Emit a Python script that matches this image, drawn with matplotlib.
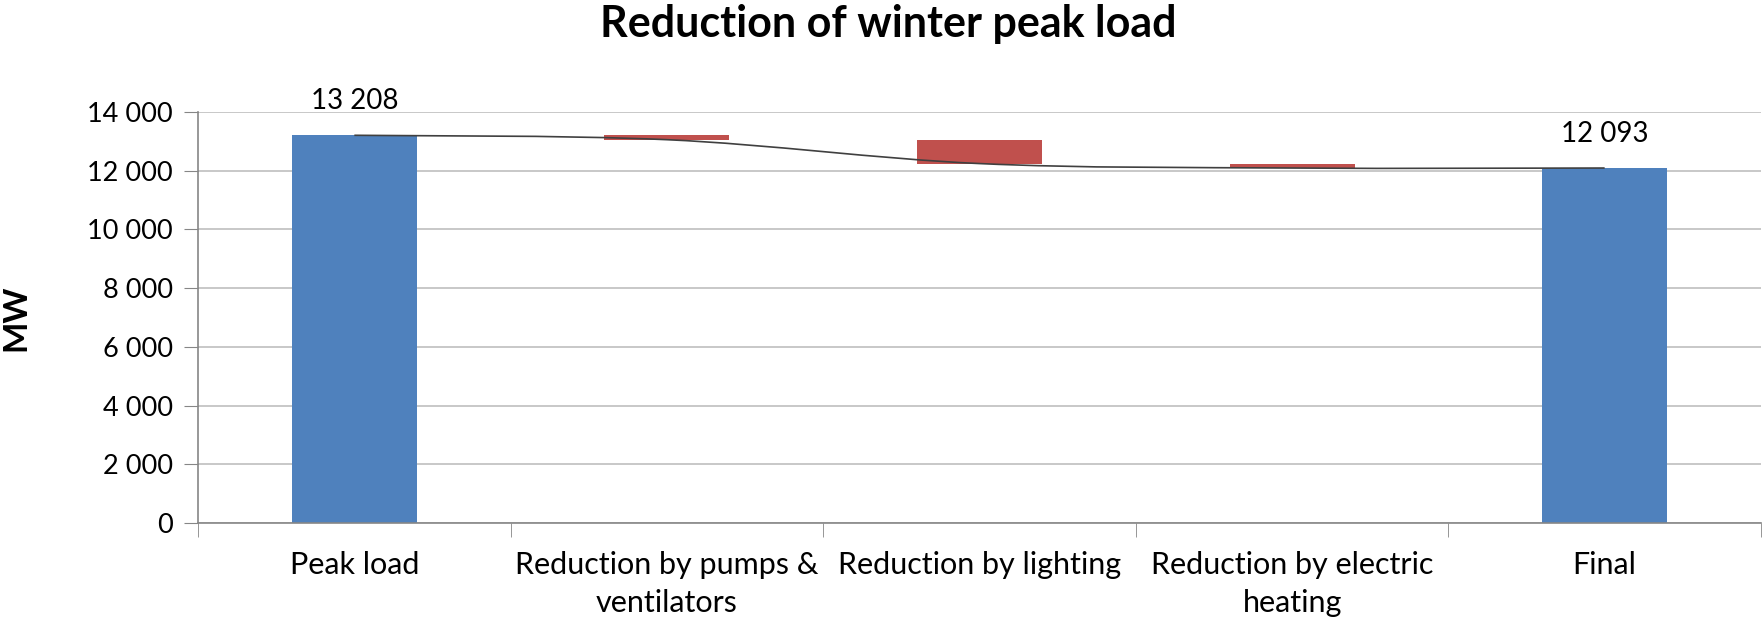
import numpy as np
import matplotlib
matplotlib.use("Agg")
import matplotlib.pyplot as plt
from matplotlib.path import Path
from matplotlib.patches import PathPatch

categories = ["Peak load", "Reduction by pumps &\nventilators", "Reduction by lighting",
              "Reduction by electric\nheating", "Final"]
peak_load = 13208
reductions = [150, 813, 152]
final_load = 12093
yticks = [0, 2000, 4000, 6000, 8000, 10000, 12000, 14000]

blue = "#4F81BD"
red = "#C0504D"

plt.rcParams['font.family'] = ['Lato', 'DejaVu Sans']


def fmt(v):
    return f"{int(v):,}".replace(",", " ")


def main():
    fig = plt.figure(figsize=(17.62, 6.19), dpi=100)
    ax = fig.add_axes([0.1124, 0.155, 0.887, 0.664])

    x = np.arange(len(categories))
    w = 0.4

    # totals
    ax.bar([0, 4], [peak_load, final_load], width=w, color=blue, zorder=2)

    # floating reductions
    level = peak_load
    line_y = [peak_load]
    for i, r in enumerate(reductions):
        ax.bar(i + 1, r, bottom=level - r, width=w, color=red, zorder=2)
        level -= r
        line_y.append(level)
    line_y.append(final_load)

    # smoothed connector line (Catmull-Rom as bezier)
    pts = np.column_stack([x, line_y]).astype(float)
    verts = [pts[0]]
    codes = [Path.MOVETO]
    n = len(pts)
    for i in range(n - 1):
        p0 = pts[max(i - 1, 0)]
        p1 = pts[i]
        p2 = pts[i + 1]
        p3 = pts[min(i + 2, n - 1)]
        verts += [p1 + (p2 - p0) / 6, p2 - (p3 - p1) / 6, p2]
        codes += [Path.CURVE4] * 3
    ax.add_patch(PathPatch(Path(verts, codes), fill=False, edgecolor="#404040",
                           lw=1.2, zorder=3))

    ax.text(0, peak_load + 720, fmt(peak_load), ha="center", va="bottom", fontsize=20)
    ax.text(4, final_load + 720, fmt(final_load), ha="center", va="bottom", fontsize=20)

    ax.set_xlim(-0.5, 4.5)
    ax.set_ylim(0, 14000)
    ax.set_yticks(yticks)
    ax.set_yticklabels([fmt(v) for v in yticks], fontsize=19.5)
    ax.set_xticks(x)
    ax.set_xticklabels(categories, fontsize=22, linespacing=1.45)
    ax.set_xticks(np.arange(-0.5, 5, 1), minor=True)
    ax.tick_params(axis="x", which="major", length=0, pad=20)
    ax.tick_params(axis="x", which="minor", length=10, color="#868686", direction="out")
    ax.tick_params(axis="y", length=10, color="#868686", direction="out", pad=8)

    ax.grid(axis="y", color="#BFBFBF", lw=1.2, zorder=0)
    ax.set_axisbelow(True)
    for s in ["top", "right"]:
        ax.spines[s].set_visible(False)
    for s in ["left", "bottom"]:
        ax.spines[s].set_color("#868686")
        ax.spines[s].set_linewidth(1.2)

    ax.set_ylabel("MW", fontsize=24, fontweight="bold")
    ax.yaxis.set_label_coords(-0.107, 0.5)
    fig.text(0.504, 0.962, "Reduction of winter peak load", ha="center", va="center",
             fontsize=31, fontweight="bold")

    fig.savefig("out.png", dpi=100)


if __name__ == "__main__":
    main()
